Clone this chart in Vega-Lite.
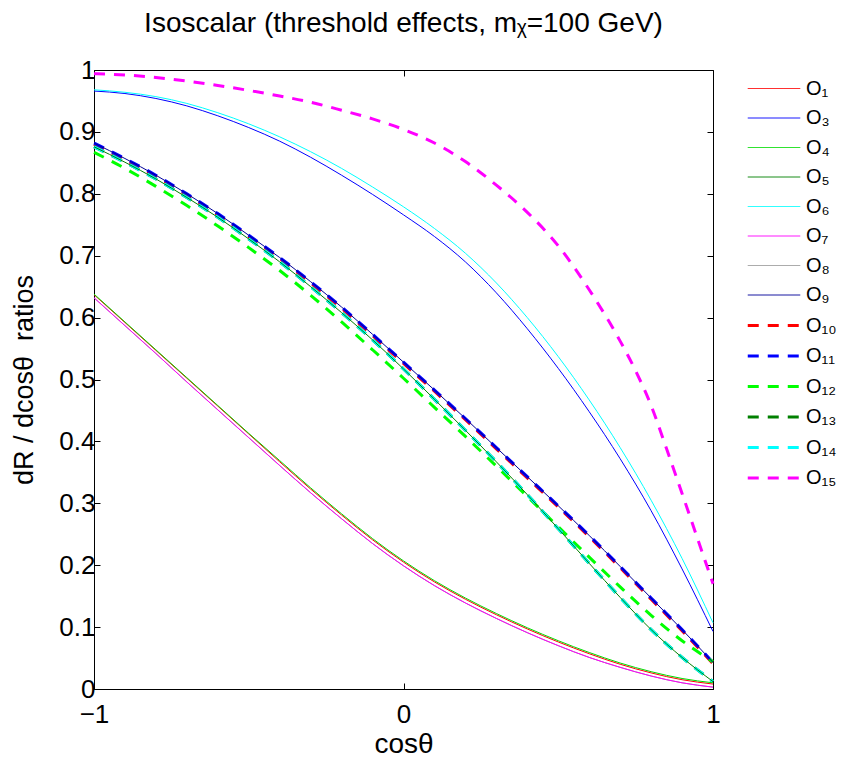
{
  "$schema": "https://vega.github.io/schema/vega-lite/v6.json",
  "width": 619,
  "height": 619,
  "autosize": {"type": "none"},
  "padding": {"left": 94, "top": 70, "right": 130, "bottom": 74},
  "background": "white",
  "config": {
    "view": {"stroke": "black", "strokeWidth": 1},
    "font": "Liberation Sans",
    "axis": {"grid": false, "domainColor": "black", "tickColor": "black", "labelColor": "black", "titleColor": "black", "titleFontWeight": "normal", "labelFont": "Liberation Sans", "titleFont": "Liberation Sans"}
  },
  "title": {"text": "Isoscalar (threshold effects, mᵪ=100 GeV)", "font": "Liberation Sans", "fontSize": 28, "fontWeight": "normal", "color": "black", "anchor": "middle", "offset": 19},
  "datasets": {
    "dashed": [
      {"op": "O₁₀", "x": -1, "y": 0.880}, {"op": "O₁₀", "x": -0.9, "y": 0.855}, {"op": "O₁₀", "x": -0.8, "y": 0.828}, {"op": "O₁₀", "x": -0.7, "y": 0.798}, {"op": "O₁₀", "x": -0.6, "y": 0.766}, {"op": "O₁₀", "x": -0.5, "y": 0.731}, {"op": "O₁₀", "x": -0.4, "y": 0.695}, {"op": "O₁₀", "x": -0.3, "y": 0.656}, {"op": "O₁₀", "x": -0.2, "y": 0.615}, {"op": "O₁₀", "x": -0.1, "y": 0.571}, {"op": "O₁₀", "x": 0, "y": 0.526}, {"op": "O₁₀", "x": 0.1, "y": 0.481}, {"op": "O₁₀", "x": 0.2, "y": 0.435}, {"op": "O₁₀", "x": 0.3, "y": 0.388}, {"op": "O₁₀", "x": 0.4, "y": 0.341}, {"op": "O₁₀", "x": 0.5, "y": 0.294}, {"op": "O₁₀", "x": 0.6, "y": 0.246}, {"op": "O₁₀", "x": 0.7, "y": 0.196}, {"op": "O₁₀", "x": 0.8, "y": 0.145}, {"op": "O₁₀", "x": 0.9, "y": 0.094}, {"op": "O₁₀", "x": 1, "y": 0.041},
      {"op": "O₁₁", "x": -1, "y": 0.882}, {"op": "O₁₁", "x": -0.9, "y": 0.857}, {"op": "O₁₁", "x": -0.8, "y": 0.830}, {"op": "O₁₁", "x": -0.7, "y": 0.800}, {"op": "O₁₁", "x": -0.6, "y": 0.768}, {"op": "O₁₁", "x": -0.5, "y": 0.733}, {"op": "O₁₁", "x": -0.4, "y": 0.697}, {"op": "O₁₁", "x": -0.3, "y": 0.658}, {"op": "O₁₁", "x": -0.2, "y": 0.617}, {"op": "O₁₁", "x": -0.1, "y": 0.573}, {"op": "O₁₁", "x": 0, "y": 0.528}, {"op": "O₁₁", "x": 0.1, "y": 0.483}, {"op": "O₁₁", "x": 0.2, "y": 0.437}, {"op": "O₁₁", "x": 0.3, "y": 0.390}, {"op": "O₁₁", "x": 0.4, "y": 0.343}, {"op": "O₁₁", "x": 0.5, "y": 0.296}, {"op": "O₁₁", "x": 0.6, "y": 0.248}, {"op": "O₁₁", "x": 0.7, "y": 0.198}, {"op": "O₁₁", "x": 0.8, "y": 0.147}, {"op": "O₁₁", "x": 0.9, "y": 0.096}, {"op": "O₁₁", "x": 1, "y": 0.043},
      {"op": "O₁₂", "x": -1, "y": 0.867}, {"op": "O₁₂", "x": -0.9, "y": 0.841}, {"op": "O₁₂", "x": -0.8, "y": 0.812}, {"op": "O₁₂", "x": -0.7, "y": 0.781}, {"op": "O₁₂", "x": -0.6, "y": 0.748}, {"op": "O₁₂", "x": -0.5, "y": 0.713}, {"op": "O₁₂", "x": -0.4, "y": 0.676}, {"op": "O₁₂", "x": -0.3, "y": 0.636}, {"op": "O₁₂", "x": -0.2, "y": 0.593}, {"op": "O₁₂", "x": -0.1, "y": 0.548}, {"op": "O₁₂", "x": 0, "y": 0.502}, {"op": "O₁₂", "x": 0.1, "y": 0.455}, {"op": "O₁₂", "x": 0.2, "y": 0.408}, {"op": "O₁₂", "x": 0.3, "y": 0.360}, {"op": "O₁₂", "x": 0.4, "y": 0.311}, {"op": "O₁₂", "x": 0.5, "y": 0.262}, {"op": "O₁₂", "x": 0.6, "y": 0.213}, {"op": "O₁₂", "x": 0.7, "y": 0.165}, {"op": "O₁₂", "x": 0.8, "y": 0.119}, {"op": "O₁₂", "x": 0.9, "y": 0.078}, {"op": "O₁₂", "x": 1, "y": 0.044},
      {"op": "O₁₃", "x": -1, "y": 0.876}, {"op": "O₁₃", "x": -0.9, "y": 0.851}, {"op": "O₁₃", "x": -0.8, "y": 0.824}, {"op": "O₁₃", "x": -0.7, "y": 0.794}, {"op": "O₁₃", "x": -0.6, "y": 0.762}, {"op": "O₁₃", "x": -0.5, "y": 0.727}, {"op": "O₁₃", "x": -0.4, "y": 0.690}, {"op": "O₁₃", "x": -0.3, "y": 0.650}, {"op": "O₁₃", "x": -0.2, "y": 0.608}, {"op": "O₁₃", "x": -0.1, "y": 0.564}, {"op": "O₁₃", "x": 0, "y": 0.517}, {"op": "O₁₃", "x": 0.1, "y": 0.468}, {"op": "O₁₃", "x": 0.2, "y": 0.418}, {"op": "O₁₃", "x": 0.3, "y": 0.367}, {"op": "O₁₃", "x": 0.4, "y": 0.314}, {"op": "O₁₃", "x": 0.5, "y": 0.259}, {"op": "O₁₃", "x": 0.6, "y": 0.203}, {"op": "O₁₃", "x": 0.7, "y": 0.148}, {"op": "O₁₃", "x": 0.8, "y": 0.096}, {"op": "O₁₃", "x": 0.9, "y": 0.051}, {"op": "O₁₃", "x": 1, "y": 0.012},
      {"op": "O₁₄", "x": -1, "y": 0.876}, {"op": "O₁₄", "x": -0.9, "y": 0.851}, {"op": "O₁₄", "x": -0.8, "y": 0.824}, {"op": "O₁₄", "x": -0.7, "y": 0.794}, {"op": "O₁₄", "x": -0.6, "y": 0.762}, {"op": "O₁₄", "x": -0.5, "y": 0.727}, {"op": "O₁₄", "x": -0.4, "y": 0.690}, {"op": "O₁₄", "x": -0.3, "y": 0.650}, {"op": "O₁₄", "x": -0.2, "y": 0.608}, {"op": "O₁₄", "x": -0.1, "y": 0.564}, {"op": "O₁₄", "x": 0, "y": 0.517}, {"op": "O₁₄", "x": 0.1, "y": 0.468}, {"op": "O₁₄", "x": 0.2, "y": 0.418}, {"op": "O₁₄", "x": 0.3, "y": 0.367}, {"op": "O₁₄", "x": 0.4, "y": 0.314}, {"op": "O₁₄", "x": 0.5, "y": 0.259}, {"op": "O₁₄", "x": 0.6, "y": 0.203}, {"op": "O₁₄", "x": 0.7, "y": 0.148}, {"op": "O₁₄", "x": 0.8, "y": 0.096}, {"op": "O₁₄", "x": 0.9, "y": 0.051}, {"op": "O₁₄", "x": 1, "y": 0.012},
      {"op": "O₁₅", "x": -1, "y": 0.994}, {"op": "O₁₅", "x": -0.9, "y": 0.992}, {"op": "O₁₅", "x": -0.8, "y": 0.988}, {"op": "O₁₅", "x": -0.7, "y": 0.982}, {"op": "O₁₅", "x": -0.6, "y": 0.975}, {"op": "O₁₅", "x": -0.5, "y": 0.967}, {"op": "O₁₅", "x": -0.4, "y": 0.958}, {"op": "O₁₅", "x": -0.3, "y": 0.948}, {"op": "O₁₅", "x": -0.2, "y": 0.935}, {"op": "O₁₅", "x": -0.1, "y": 0.921}, {"op": "O₁₅", "x": 0, "y": 0.904}, {"op": "O₁₅", "x": 0.1, "y": 0.882}, {"op": "O₁₅", "x": 0.2, "y": 0.852}, {"op": "O₁₅", "x": 0.3, "y": 0.814}, {"op": "O₁₅", "x": 0.4, "y": 0.770}, {"op": "O₁₅", "x": 0.5, "y": 0.716}, {"op": "O₁₅", "x": 0.6, "y": 0.645}, {"op": "O₁₅", "x": 0.7, "y": 0.562}, {"op": "O₁₅", "x": 0.75, "y": 0.514}, {"op": "O₁₅", "x": 0.8, "y": 0.458}, {"op": "O₁₅", "x": 0.85, "y": 0.388}, {"op": "O₁₅", "x": 0.9, "y": 0.316}, {"op": "O₁₅", "x": 0.95, "y": 0.243}, {"op": "O₁₅", "x": 1, "y": 0.170}
    ],
    "solid": [
      {"op": "O₁", "x": -1, "y": 0.637}, {"op": "O₁", "x": -0.9, "y": 0.592}, {"op": "O₁", "x": -0.8, "y": 0.547}, {"op": "O₁", "x": -0.7, "y": 0.502}, {"op": "O₁", "x": -0.6, "y": 0.457}, {"op": "O₁", "x": -0.5, "y": 0.412}, {"op": "O₁", "x": -0.4, "y": 0.367}, {"op": "O₁", "x": -0.3, "y": 0.323}, {"op": "O₁", "x": -0.2, "y": 0.281}, {"op": "O₁", "x": -0.1, "y": 0.241}, {"op": "O₁", "x": 0, "y": 0.205}, {"op": "O₁", "x": 0.1, "y": 0.173}, {"op": "O₁", "x": 0.2, "y": 0.145}, {"op": "O₁", "x": 0.3, "y": 0.120}, {"op": "O₁", "x": 0.4, "y": 0.097}, {"op": "O₁", "x": 0.5, "y": 0.076}, {"op": "O₁", "x": 0.6, "y": 0.057}, {"op": "O₁", "x": 0.7, "y": 0.040}, {"op": "O₁", "x": 0.8, "y": 0.026}, {"op": "O₁", "x": 0.9, "y": 0.015}, {"op": "O₁", "x": 1, "y": 0.008},
      {"op": "O₃", "x": -1, "y": 0.966}, {"op": "O₃", "x": -0.9, "y": 0.962}, {"op": "O₃", "x": -0.8, "y": 0.954}, {"op": "O₃", "x": -0.7, "y": 0.942}, {"op": "O₃", "x": -0.6, "y": 0.926}, {"op": "O₃", "x": -0.5, "y": 0.907}, {"op": "O₃", "x": -0.4, "y": 0.885}, {"op": "O₃", "x": -0.3, "y": 0.859}, {"op": "O₃", "x": -0.2, "y": 0.830}, {"op": "O₃", "x": -0.1, "y": 0.799}, {"op": "O₃", "x": 0, "y": 0.766}, {"op": "O₃", "x": 0.1, "y": 0.731}, {"op": "O₃", "x": 0.2, "y": 0.690}, {"op": "O₃", "x": 0.3, "y": 0.640}, {"op": "O₃", "x": 0.4, "y": 0.582}, {"op": "O₃", "x": 0.5, "y": 0.518}, {"op": "O₃", "x": 0.6, "y": 0.448}, {"op": "O₃", "x": 0.7, "y": 0.372}, {"op": "O₃", "x": 0.8, "y": 0.288}, {"op": "O₃", "x": 0.9, "y": 0.194}, {"op": "O₃", "x": 1, "y": 0.093},
      {"op": "O₄", "x": -1, "y": 0.638}, {"op": "O₄", "x": -0.9, "y": 0.593}, {"op": "O₄", "x": -0.8, "y": 0.548}, {"op": "O₄", "x": -0.7, "y": 0.503}, {"op": "O₄", "x": -0.6, "y": 0.458}, {"op": "O₄", "x": -0.5, "y": 0.413}, {"op": "O₄", "x": -0.4, "y": 0.369}, {"op": "O₄", "x": -0.3, "y": 0.325}, {"op": "O₄", "x": -0.2, "y": 0.283}, {"op": "O₄", "x": -0.1, "y": 0.243}, {"op": "O₄", "x": 0, "y": 0.207}, {"op": "O₄", "x": 0.1, "y": 0.175}, {"op": "O₄", "x": 0.2, "y": 0.147}, {"op": "O₄", "x": 0.3, "y": 0.122}, {"op": "O₄", "x": 0.4, "y": 0.099}, {"op": "O₄", "x": 0.5, "y": 0.078}, {"op": "O₄", "x": 0.6, "y": 0.059}, {"op": "O₄", "x": 0.7, "y": 0.042}, {"op": "O₄", "x": 0.8, "y": 0.028}, {"op": "O₄", "x": 0.9, "y": 0.017}, {"op": "O₄", "x": 1, "y": 0.010},
      {"op": "O₅", "x": -1, "y": 0.876}, {"op": "O₅", "x": -0.9, "y": 0.851}, {"op": "O₅", "x": -0.8, "y": 0.824}, {"op": "O₅", "x": -0.7, "y": 0.794}, {"op": "O₅", "x": -0.6, "y": 0.762}, {"op": "O₅", "x": -0.5, "y": 0.727}, {"op": "O₅", "x": -0.4, "y": 0.690}, {"op": "O₅", "x": -0.3, "y": 0.650}, {"op": "O₅", "x": -0.2, "y": 0.608}, {"op": "O₅", "x": -0.1, "y": 0.564}, {"op": "O₅", "x": 0, "y": 0.517}, {"op": "O₅", "x": 0.1, "y": 0.468}, {"op": "O₅", "x": 0.2, "y": 0.418}, {"op": "O₅", "x": 0.3, "y": 0.367}, {"op": "O₅", "x": 0.4, "y": 0.314}, {"op": "O₅", "x": 0.5, "y": 0.259}, {"op": "O₅", "x": 0.6, "y": 0.203}, {"op": "O₅", "x": 0.7, "y": 0.148}, {"op": "O₅", "x": 0.8, "y": 0.096}, {"op": "O₅", "x": 0.9, "y": 0.051}, {"op": "O₅", "x": 1, "y": 0.012},
      {"op": "O₆", "x": -1, "y": 0.968}, {"op": "O₆", "x": -0.9, "y": 0.964}, {"op": "O₆", "x": -0.8, "y": 0.957}, {"op": "O₆", "x": -0.7, "y": 0.946}, {"op": "O₆", "x": -0.6, "y": 0.931}, {"op": "O₆", "x": -0.5, "y": 0.913}, {"op": "O₆", "x": -0.4, "y": 0.892}, {"op": "O₆", "x": -0.3, "y": 0.868}, {"op": "O₆", "x": -0.2, "y": 0.841}, {"op": "O₆", "x": -0.1, "y": 0.811}, {"op": "O₆", "x": 0, "y": 0.779}, {"op": "O₆", "x": 0.1, "y": 0.744}, {"op": "O₆", "x": 0.2, "y": 0.704}, {"op": "O₆", "x": 0.3, "y": 0.656}, {"op": "O₆", "x": 0.4, "y": 0.600}, {"op": "O₆", "x": 0.5, "y": 0.537}, {"op": "O₆", "x": 0.6, "y": 0.467}, {"op": "O₆", "x": 0.7, "y": 0.390}, {"op": "O₆", "x": 0.8, "y": 0.305}, {"op": "O₆", "x": 0.9, "y": 0.211}, {"op": "O₆", "x": 1, "y": 0.107},
      {"op": "O₈", "x": -1, "y": 0.632}, {"op": "O₈", "x": -0.9, "y": 0.587}, {"op": "O₈", "x": -0.8, "y": 0.542}, {"op": "O₈", "x": -0.7, "y": 0.496}, {"op": "O₈", "x": -0.6, "y": 0.451}, {"op": "O₈", "x": -0.5, "y": 0.406}, {"op": "O₈", "x": -0.4, "y": 0.361}, {"op": "O₈", "x": -0.3, "y": 0.317}, {"op": "O₈", "x": -0.2, "y": 0.275}, {"op": "O₈", "x": -0.1, "y": 0.235}, {"op": "O₈", "x": 0, "y": 0.199}, {"op": "O₈", "x": 0.1, "y": 0.167}, {"op": "O₈", "x": 0.2, "y": 0.139}, {"op": "O₈", "x": 0.3, "y": 0.114}, {"op": "O₈", "x": 0.4, "y": 0.091}, {"op": "O₈", "x": 0.5, "y": 0.070}, {"op": "O₈", "x": 0.6, "y": 0.051}, {"op": "O₈", "x": 0.7, "y": 0.035}, {"op": "O₈", "x": 0.8, "y": 0.021}, {"op": "O₈", "x": 0.9, "y": 0.010}, {"op": "O₈", "x": 1, "y": 0.003},
      {"op": "O₇", "x": -1, "y": 0.632}, {"op": "O₇", "x": -0.9, "y": 0.587}, {"op": "O₇", "x": -0.8, "y": 0.542}, {"op": "O₇", "x": -0.7, "y": 0.496}, {"op": "O₇", "x": -0.6, "y": 0.451}, {"op": "O₇", "x": -0.5, "y": 0.406}, {"op": "O₇", "x": -0.4, "y": 0.361}, {"op": "O₇", "x": -0.3, "y": 0.317}, {"op": "O₇", "x": -0.2, "y": 0.275}, {"op": "O₇", "x": -0.1, "y": 0.235}, {"op": "O₇", "x": 0, "y": 0.199}, {"op": "O₇", "x": 0.1, "y": 0.167}, {"op": "O₇", "x": 0.2, "y": 0.139}, {"op": "O₇", "x": 0.3, "y": 0.114}, {"op": "O₇", "x": 0.4, "y": 0.091}, {"op": "O₇", "x": 0.5, "y": 0.070}, {"op": "O₇", "x": 0.6, "y": 0.051}, {"op": "O₇", "x": 0.7, "y": 0.035}, {"op": "O₇", "x": 0.8, "y": 0.021}, {"op": "O₇", "x": 0.9, "y": 0.010}, {"op": "O₇", "x": 1, "y": 0.003},
      {"op": "O₉", "x": -1, "y": 0.882}, {"op": "O₉", "x": -0.9, "y": 0.857}, {"op": "O₉", "x": -0.8, "y": 0.830}, {"op": "O₉", "x": -0.7, "y": 0.800}, {"op": "O₉", "x": -0.6, "y": 0.768}, {"op": "O₉", "x": -0.5, "y": 0.733}, {"op": "O₉", "x": -0.4, "y": 0.697}, {"op": "O₉", "x": -0.3, "y": 0.658}, {"op": "O₉", "x": -0.2, "y": 0.617}, {"op": "O₉", "x": -0.1, "y": 0.573}, {"op": "O₉", "x": 0, "y": 0.528}, {"op": "O₉", "x": 0.1, "y": 0.483}, {"op": "O₉", "x": 0.2, "y": 0.437}, {"op": "O₉", "x": 0.3, "y": 0.390}, {"op": "O₉", "x": 0.4, "y": 0.343}, {"op": "O₉", "x": 0.5, "y": 0.296}, {"op": "O₉", "x": 0.6, "y": 0.248}, {"op": "O₉", "x": 0.7, "y": 0.198}, {"op": "O₉", "x": 0.8, "y": 0.147}, {"op": "O₉", "x": 0.9, "y": 0.096}, {"op": "O₉", "x": 1, "y": 0.043}
    ],
    "frame": [{"x": -1, "y": 0}, {"x": 1, "y": 1}]
  },
  "layer": [
    {
      "data": {"name": "dashed"},
      "mark": {"type": "line", "interpolate": "monotone"},
      "encoding": {
        "x": {"field": "x", "type": "quantitative", "scale": {"domain": [-1, 1], "nice": false},
          "axis": {"orient": "bottom", "values": [-1, 0, 1], "format": "~g", "tickSize": -6, "labelFlush": false, "labelFontSize": 26, "labelPadding": 18, "title": "cosθ", "titleFontSize": 28, "titlePadding": 3}},
        "y": {"field": "y", "type": "quantitative", "scale": {"domain": [0, 1], "nice": false},
          "axis": {"orient": "left", "values": [0, 0.1, 0.2, 0.3, 0.4, 0.5, 0.6, 0.7, 0.8, 0.9, 1], "format": "~g", "tickSize": -6, "labelFlush": false, "labelFontSize": 26, "labelPadding": 5, "title": "dR / dcosθ\u00a0\u00a0ratios", "titleFontSize": 27, "titlePadding": 20}},
        "color": {"field": "op", "type": "nominal", "title": null,
          "scale": {"domain": ["O₁", "O₃", "O₄", "O₅", "O₆", "O₇", "O₈", "O₉", "O₁₀", "O₁₁", "O₁₂", "O₁₃", "O₁₄", "O₁₅"],
            "range": ["#ff0000", "#0000ff", "#00dd00", "#008000", "#00ffff", "#ff00ff", "#999999", "#000099", "#ff0000", "#0000ff", "#00ff00", "#008000", "#00ffff", "#ff00ff"]},
          "legend": {"orient": "none", "legendX": 668, "legendY": 7.5, "padding": 0, "symbolType": "M-2.5,0L2.5,0", "symbolSize": 441, "labelFontSize": 20, "labelFont": "Liberation Sans", "labelColor": "black", "labelOffset": 20, "rowPadding": 8.5}},
        "strokeDash": {"field": "op", "type": "nominal", "title": null,
          "scale": {"domain": ["O₁", "O₃", "O₄", "O₅", "O₆", "O₇", "O₈", "O₉", "O₁₀", "O₁₁", "O₁₂", "O₁₃", "O₁₄", "O₁₅"],
            "range": [[1, 0], [1, 0], [1, 0], [1, 0], [1, 0], [1, 0], [1, 0], [1, 0], [11, 9], [11, 9], [11, 9], [11, 9], [11, 9], [11, 9]]}},
        "strokeWidth": {"field": "op", "type": "nominal", "title": null,
          "scale": {"type": "ordinal", "domain": ["O₁", "O₃", "O₄", "O₅", "O₆", "O₇", "O₈", "O₉", "O₁₀", "O₁₁", "O₁₂", "O₁₃", "O₁₄", "O₁₅"],
            "range": [1, 1, 1, 1, 1, 1, 1, 1, 3, 3, 3, 3, 3, 3]}}
      }
    },
    {
      "data": {"name": "solid"},
      "mark": {"type": "line", "interpolate": "monotone", "strokeWidth": 1},
      "encoding": {
        "x": {"field": "x", "type": "quantitative", "axis": null},
        "y": {"field": "y", "type": "quantitative", "axis": null},
        "color": {"field": "op", "type": "nominal", "title": null}
      }
    },
    {
      "data": {"name": "frame"},
      "mark": {"type": "point", "opacity": 0},
      "encoding": {
        "x": {"field": "x", "type": "quantitative",
          "axis": {"orient": "top", "values": [-1, 0, 1], "tickSize": -6, "labels": false, "title": null, "domain": false}},
        "y": {"field": "y", "type": "quantitative",
          "axis": {"orient": "right", "values": [0, 0.1, 0.2, 0.3, 0.4, 0.5, 0.6, 0.7, 0.8, 0.9, 1], "tickSize": -6, "labels": false, "title": null, "domain": false}}
      }
    }
  ],
  "resolve": {"axis": {"x": "independent", "y": "independent"}}
}
